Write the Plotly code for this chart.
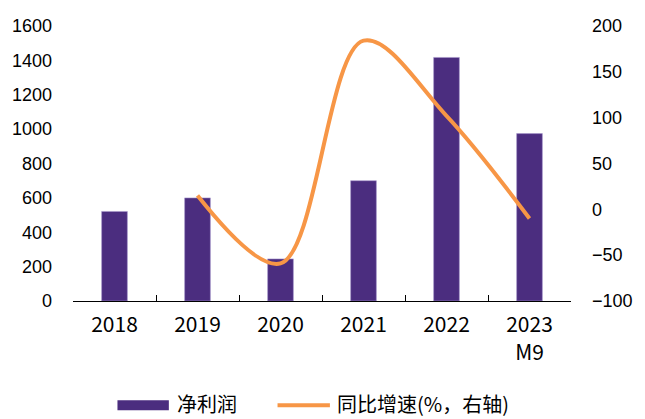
import plotly.graph_objects as go

# Net profit (left axis) and year-on-year growth in % (right axis)
years = ["2018", "2019", "2020", "2021", "2022", "2023<br>M9"]
net_profit = [521, 600, 245, 700, 1417, 974]
yoy_growth = [None, 15, -59, 184, 102, -10]

left_ticks = [0, 200, 400, 600, 800, 1000, 1200, 1400, 1600]
right_ticks = [-100, -50, 0, 50, 100, 150, 200]

bar_color = "#4B2D7F"
line_color = "#F79646"
cjk_font = "Noto Sans CJK SC"
num_font = "Liberation Sans"

plot_left, plot_right = 73, 577
plot_top, plot_bottom = 26, 301.5
plot_w = plot_right - plot_left
plot_h = plot_bottom - plot_top

fig = go.Figure()

fig.add_trace(go.Bar(
    x=years, y=net_profit, name="净利润",
    marker=dict(color=bar_color, line=dict(color="#A898CC", width=0.6)),
    width=0.31, showlegend=False,
))

fig.add_trace(go.Scatter(
    x=years, y=yoy_growth, name="同比增速(%，右轴)", yaxis="y2",
    mode="lines", line=dict(color=line_color, width=4, shape="spline", smoothing=1.0),
    connectgaps=False, showlegend=False,
))

fig.update_layout(
    width=645, height=419,
    margin=dict(l=plot_left, r=645 - plot_right, t=plot_top, b=419 - plot_bottom),
    plot_bgcolor="white", paper_bgcolor="white",
    xaxis=dict(
        type="category",
        showline=True, linecolor="black", linewidth=1.2,
        ticks="inside", tickson="boundaries", ticklen=6, tickcolor="black",
        showgrid=False,
        tickfont=dict(family=cjk_font, size=21, color="black"),
        ticklabelstandoff=5,
    ),
    yaxis=dict(
        range=[0, 1600], tickvals=left_ticks,
        showgrid=False, showline=False, zeroline=False,
        tickfont=dict(family=num_font, size=18, color="black"),
        ticks="", ticklabelstandoff=20,
    ),
    yaxis2=dict(
        range=[-100, 200], tickvals=right_ticks,
        overlaying="y", side="right",
        showgrid=False, showline=False, zeroline=False,
        tickfont=dict(family=num_font, size=18, color="black"),
        ticks="", ticklabelstandoff=20,
    ),
)


# Legend drawn beneath the plot: swatches plus labels
def px(x):
    return (x - plot_left) / plot_w


def py(y):
    return (plot_bottom - y) / plot_h


legend_row = 404
fig.add_shape(type="rect", xref="paper", yref="paper",
              x0=px(118), x1=px(170),
              y0=py(legend_row + 2 + 5), y1=py(legend_row + 2 - 5),
              fillcolor=bar_color, line=dict(width=0))
fig.add_annotation(xref="paper", yref="paper", x=px(176), y=py(legend_row),
                   text="净利润", showarrow=False, xanchor="left", yanchor="middle",
                   font=dict(family=cjk_font, size=20, color="black"))
fig.add_shape(type="line", xref="paper", yref="paper",
              x0=px(280), x1=px(333),
              y0=py(legend_row + 2), y1=py(legend_row + 2),
              line=dict(color=line_color, width=4))
fig.add_annotation(xref="paper", yref="paper", x=px(338), y=py(legend_row),
                   text="同比增速(%，右轴)", showarrow=False, xanchor="left", yanchor="middle",
                   font=dict(family=cjk_font, size=20, color="black"))

fig.write_html("out.html")
